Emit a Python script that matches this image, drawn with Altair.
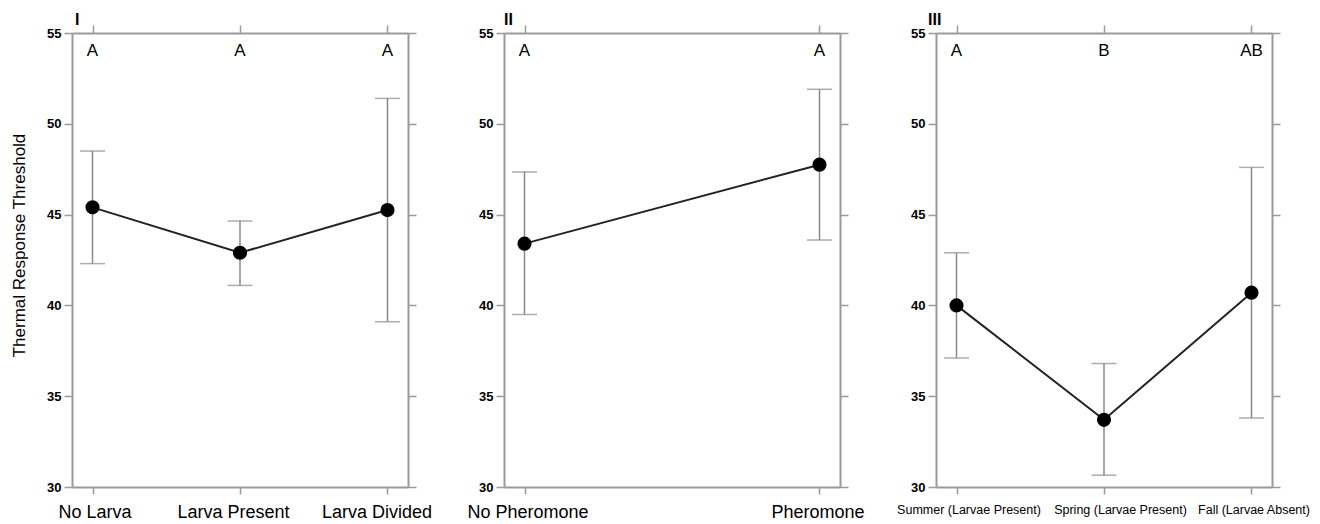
import altair as alt
import pandas as pd

panel_names = ["I", "II", "III"]
categories = [
    ["No Larva", "Larva Present", "Larva Divided"],
    ["No Pheromone", "Pheromone"],
    ["Summer (Larvae Present)", "Spring (Larvae Present)", "Fall (Larvae Absent)"],
]
means = [[45.4, 42.9, 45.25], [43.4, 47.75], [40.0, 33.7, 40.7]]
lower = [[42.3, 41.1, 39.1], [39.5, 43.6], [37.1, 30.65, 33.8]]
upper = [[48.5, 44.65, 51.4], [47.35, 51.9], [42.9, 36.8, 47.6]]
letters = [["A", "A", "A"], ["A", "A"], ["A", "B", "AB"]]
y_ticks = [30, 35, 40, 45, 50, 55]
y_title = "Thermal Response Threshold"

# small per-label horizontal nudges of the category labels (style only)
label_nudge = [
    {"No Larva": 2, "Larva Present": -7, "Larva Divided": -11},
    {"No Pheromone": 3, "Pheromone": -2},
    {"Summer (Larvae Present)": 12, "Spring (Larvae Present)": 16, "Fall (Larvae Absent)": 2},
]

GRAY = "#9a9a9a"
FONT = "Liberation Sans"


def nudge_expr(d):
    parts = "".join(f"datum.value == '{k}' ? {v} : " for k, v in d.items())
    return parts + "0"


def panel(i):
    cats = categories[i]
    df = pd.DataFrame({
        "cat": cats,
        "mean": means[i],
        "lo": lower[i],
        "hi": upper[i],
        "letter": letters[i],
    })
    n = len(cats)
    pad = 0.139 if n == 3 else 0.0695
    xscale = alt.Scale(type="point", padding=pad, domain=cats)
    yscale = alt.Scale(domain=[30, 55], nice=False, zero=False)
    lab_size = 12.5 if i == 2 else 18

    x_bottom = alt.X("cat:N", sort=cats, scale=xscale, title=None,
                     axis=alt.Axis(orient="bottom", tickSize=7, labelFontSize=lab_size,
                                   labelPadding=9, labelColor="black", labelAngle=0,
                                   labelOffset={"expr": nudge_expr(label_nudge[i])}))
    x_top = alt.X("cat:N", sort=cats, scale=xscale, title=None,
                  axis=alt.Axis(orient="top", tickSize=8, labels=False))
    x_none = alt.X("cat:N", sort=cats, scale=xscale, axis=None)

    y_left = alt.Y("mean:Q", scale=yscale,
                   title=y_title if i == 0 else None,
                   axis=alt.Axis(orient="left", values=y_ticks, tickSize=8,
                                 labelFontSize=13, labelFontWeight="bold",
                                 labelColor="black", labelPadding=3,
                                 titleFontSize=17, titleFontWeight="normal",
                                 titleColor="black", titlePadding=18, titleY=212))
    y_right = alt.Y("lo:Q", scale=yscale, title=None,
                    axis=alt.Axis(orient="right", values=y_ticks, tickSize=8,
                                  labels=False))

    base = alt.Chart(df)
    rules = base.mark_rule(color="#8a8a8a", strokeWidth=1.5).encode(
        x=x_top, y=y_right, y2="hi:Q")
    cap_lo = base.mark_tick(color="#8a8a8a", size=25, thickness=1.5).encode(
        x=x_none, y=alt.Y("lo:Q", scale=yscale, axis=None))
    cap_hi = base.mark_tick(color="#8a8a8a", size=25, thickness=1.5).encode(
        x=x_none, y=alt.Y("hi:Q", scale=yscale, axis=None))
    line = base.mark_line(color="#222222", strokeWidth=2).encode(x=x_bottom, y=y_left)
    pts = base.mark_circle(size=200, color="black", opacity=1).encode(
        x=x_none, y=alt.Y("mean:Q", scale=yscale, axis=None))
    txt = base.mark_text(fontSize=17, baseline="alphabetic", dy=23, color="black").encode(
        x=x_none, y=alt.datum(55, scale=yscale, axis=None), text="letter:N")

    dx = [3, 0, -8][i]
    return alt.layer(rules, cap_lo, cap_hi, line, pts, txt).resolve_axis(
        x="independent", y="independent"
    ).properties(
        width=336, height=454,
        title=alt.TitleParams(panel_names[i], anchor="start", frame="group",
                              dx=dx, fontSize=16, fontWeight="bold", offset=-4,
                              color="black"),
    )


chart = alt.hconcat(panel(0), panel(1), panel(2), spacing=96, bounds="flush").properties(
    padding={"left": 2, "top": 4, "right": 0, "bottom": 0}
).configure(font=FONT).configure_axis(
    domainColor=GRAY, domainWidth=2, tickColor=GRAY, tickWidth=1.5, grid=False,
    labelFont=FONT, titleFont=FONT,
).configure_view(stroke=None).configure_title(font=FONT)

chart.save("out.html", embed_options={"renderer": "svg", "actions": False})
